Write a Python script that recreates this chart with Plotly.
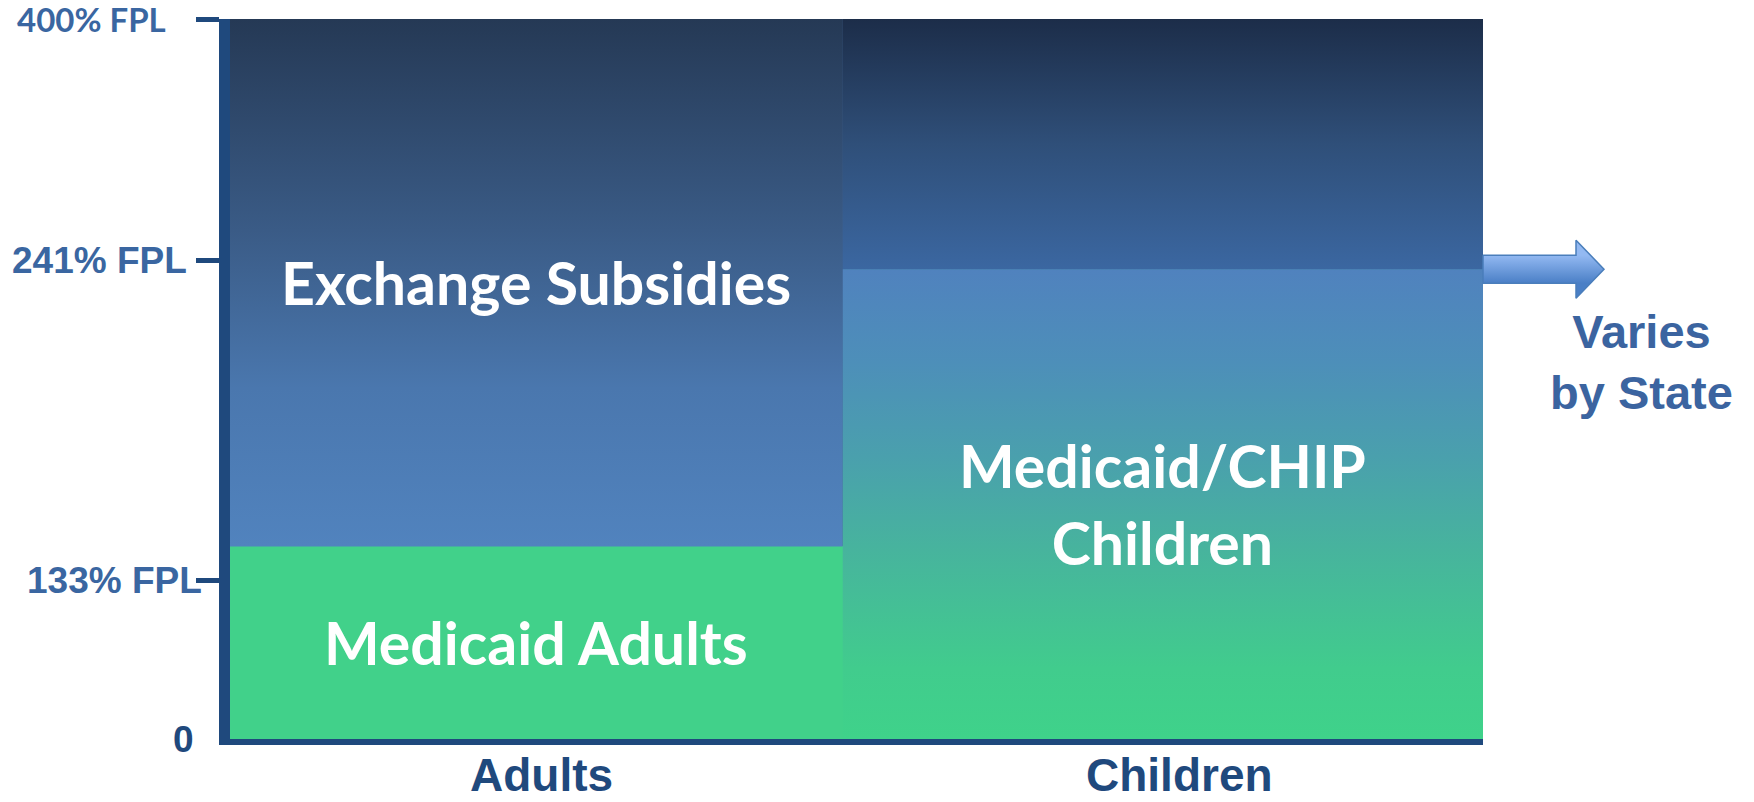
import plotly.graph_objects as go

# ---------------- data ----------------
categories = ["Adults", "Children"]
lower_names = ["Medicaid Adults", "Medicaid/CHIP<br>Children"]
lower_values = [107, 261]          # height of lower block (display units, top of chart = 400)
upper_names = ["Exchange Subsidies", ""]
upper_values = [293, 139]          # height of upper block
tick_values = [0, 88, 266, 400]
tick_labels = ["0", "133% FPL", "241% FPL", "400% FPL"]
side_note = "Varies<br>by State"

# ---------------- layout constants ----------------
W, H = 1754, 802
PX0, PX1 = 230, 1483        # plot area in pixels (horizontal)
MT, MB = 19, 63
YMAX = 400
unit = (H - MT - MB) / YMAX  # pixels per display unit
bar_widths = [0.978, 1.022]  # relative widths of the two columns (x range spans 2 units)
label_shift = [0.008, 0.027] # category label offsets (x units)

NAVY = "#1f497d"
STEEL = "#3a66a1"

# column centres from the widths
edges = [-0.5]
for w in bar_widths:
    edges.append(edges[-1] + w)
x_pos = [(edges[i] + edges[i + 1]) / 2 for i in range(len(categories))]

lower_colors = ["#41d18a", "#4a9db0"]
upper_colors = ["#3e5f8c", "#2f4f79"]
lower_fills = [None,
               [[0, "#3fd28a"], [0.15, "#41cc8d"], [0.4, "#47b49d"], [0.6, "#4aa0ad"],
                [0.8, "#4d8fb9"], [1, "#5082be"]]]
upper_fills = [[[0, "#5183be"], [0.3, "#4a77ae"], [0.6, "#3a5b86"], [1, "#253955"]],
               [[0, "#3b67a1"], [0.5, "#2f4f79"], [1, "#1c2d49"]]]

fig = go.Figure()
fig.add_trace(go.Bar(x=x_pos, y=lower_values, width=bar_widths, name="lower",
                     marker=dict(color=lower_colors, line_width=0),
                     hovertext=[n.replace("<br>", " ") for n in lower_names], hoverinfo="text+y"))
fig.add_trace(go.Bar(x=x_pos, y=upper_values, width=bar_widths, name="upper",
                     marker=dict(color=upper_colors, line_width=0),
                     hovertext=upper_names, hoverinfo="text+y"))

# gradient overlays built from the same values
for i in range(len(categories)):
    segs = [(0, lower_values[i], lower_fills[i]),
            (lower_values[i], lower_values[i] + upper_values[i], upper_fills[i])]
    for b, t, cs in segs:
        if cs is None:
            continue
        x0, x1 = edges[i], edges[i + 1]
        fig.add_trace(go.Scatter(
            x=[x0, x1, x1, x0, x0], y=[b, b, t, t, b], mode="lines",
            line=dict(width=0), fill="toself",
            fillgradient=dict(type="vertical", colorscale=cs, start=b, stop=t),
            hoverinfo="skip", showlegend=False))

# arrow at the top of the children's Medicaid/CHIP block (pixel x on x2)
ay = lower_values[1]
sh, hh = 14 / unit, 29 / unit
xa0, xa1, xa2 = PX1, PX1 + 93, PX1 + 121
fig.add_trace(go.Scatter(
    x=[xa0, xa1, xa1, xa2, xa1, xa1, xa0, xa0],
    y=[ay + sh, ay + sh, ay + hh, ay, ay - hh, ay - sh, ay - sh, ay + sh],
    xaxis="x2", yaxis="y", mode="lines", fill="toself",
    line=dict(color="#4a7ebb", width=1.5),
    fillgradient=dict(type="vertical",
                      colorscale=[[0, "#4a7fc6"], [1, "#93b9f2"]],
                      start=ay - sh, stop=ay + sh),
    hoverinfo="skip", showlegend=False))

annotations = []
block_font = dict(family="Lato", size=59, color="white", weight="bold")
for i in range(len(categories)):
    annotations.append(dict(x=x_pos[i], y=lower_values[i] / 2, xref="x", yref="y",
                            text=lower_names[i], showarrow=False, font=block_font))
    if upper_names[i]:
        annotations.append(dict(x=x_pos[i], y=lower_values[i] + upper_values[i] / 2,
                                xref="x", yref="y", text=upper_names[i],
                                showarrow=False, font=block_font))

# category labels under the columns
for i, cat in enumerate(categories):
    annotations.append(dict(x=x_pos[i] + label_shift[i], y=0, xref="x", yref="paper",
                            yanchor="middle", yshift=-36, text=cat, showarrow=False,
                            borderpad=0,
                            font=dict(family="Liberation Sans", size=46, color=NAVY,
                                      weight="bold")))

# y tick labels
label_right = {"0": 196, "133% FPL": 204, "241% FPL": 189, "400% FPL": 168}
for v, lab in zip(tick_values, tick_labels):
    if lab == "400% FPL":
        f = dict(family="Lato", size=33, color=STEEL, weight="bold")
    elif lab == "0":
        f = dict(family="Liberation Sans", size=37, color=NAVY, weight="bold")
    else:
        f = dict(family="Liberation Sans", size=37, color=STEEL, weight="bold")
    annotations.append(dict(x=label_right[lab], y=v, xref="x2", yref="y",
                            xanchor="right", yanchor="middle", text=lab,
                            showarrow=False, font=f))

annotations.append(dict(x=1641, y=(H - MB - 362) / unit, xref="x2", yref="y",
                        text=side_note, showarrow=False,
                        font=dict(family="Liberation Sans", size=47, color="#3b64a0", weight="bold")))

fig.update_layout(
    width=W, height=H,
    margin=dict(l=0, r=0, t=MT, b=MB, pad=0, autoexpand=False),
    paper_bgcolor="white", plot_bgcolor="rgba(0,0,0,0)",
    barmode="stack", bargap=0, showlegend=False,
    annotations=annotations,
    xaxis=dict(domain=[PX0 / W, PX1 / W], range=[-0.5, 1.5],
               showticklabels=False,
               showline=True, linecolor=NAVY, linewidth=6, ticks="", showgrid=False,
               zeroline=False, fixedrange=True, automargin=False),
    xaxis2=dict(domain=[0, 1], range=[0, W], anchor="y", visible=False, fixedrange=True),
    yaxis=dict(range=[0, YMAX], tickvals=tick_values[1:], showticklabels=False,
               ticks="outside", ticklen=23, tickwidth=5, tickcolor=NAVY,
               showline=True, linecolor=NAVY, linewidth=11, showgrid=False,
               zeroline=False, fixedrange=True, automargin=False),
)

fig.write_html("out.html", config={"displayModeBar": False},
               post_script="document.body.style.margin='0';document.body.style.overflow='hidden';")
